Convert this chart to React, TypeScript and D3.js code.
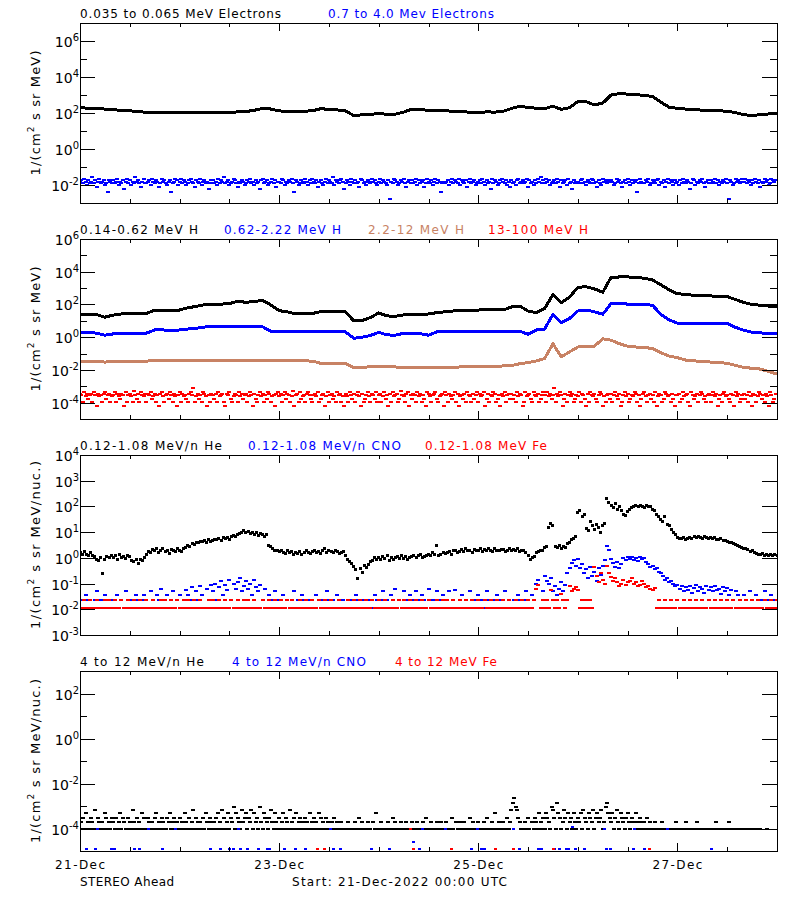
import React from "react";
import * as d3 from "d3";

// ---------------- time axis ----------------
const START_MS = Date.UTC(2022, 11, 21, 0, 0, 0);
const SPAN_HOURS = 168;
const HOUR_MS = 3600 * 1000;
const xTickLabels = ["21-Dec", "23-Dec", "25-Dec", "27-Dec"];
const xTickLabelHours = [0, 48, 96, 144];

// ---------------- titles ----------------
const titles = [
  ["0.035 to 0.065 MeV Electrons", "0.7 to 4.0 Mev Electrons"],
  ["0.14-0.62 MeV H", "0.62-2.22 MeV H", "2.2-12 MeV H", "13-100 MeV H"],
  ["0.12-1.08 MeV/n He", "0.12-1.08 MeV/n CNO", "0.12-1.08 MeV Fe"],
  ["4 to 12 MeV/n He", "4 to 12 MeV/n CNO", "4 to 12 MeV Fe"],
];
const yLabelMain = ["1/(cm", "1/(cm", "1/(cm", "1/(cm"];
const yLabelTail = [" s sr MeV)", " s sr MeV)", " s sr MeV/nuc.)", " s sr MeV/nuc.)"];
const bottomLeftText = "STEREO Ahead";
const bottomMidText = "Start: 21-Dec-2022 00:00 UTC";

// ---------------- data: log10 flux ----------------
// Panel 1: 0.035-0.065 MeV electrons, every 2 h
const elecLowLog = [
  2.29, 2.27, 2.25, 2.22, 2.18, 2.15, 2.12, 2.08, 2.04, 2.02, 2.02, 2.03,
  2.02, 2.03, 2.04, 2.03, 2.05, 2.05, 2.04, 2.06, 2.08, 2.15, 2.26, 2.22,
  2.12, 2.08, 2.08, 2.1, 2.12, 2.24, 2.2, 2.17, 2.12, 1.85, 1.9, 1.94,
  1.95, 1.94, 1.93, 2.05, 2.22, 2.2, 2.14, 2.12, 2.12, 2.1, 2.08, 2.04,
  2.03, 2.06, 2.05, 2.1, 2.25, 2.38, 2.3, 2.27, 2.24, 2.38, 2.2, 2.3,
  2.63, 2.63, 2.45, 2.55, 3.0, 3.08, 3.05, 3.02, 2.98, 2.92, 2.6, 2.32,
  2.26, 2.22, 2.18, 2.16, 2.13, 2.12, 2.1, 2.02, 1.9, 1.87, 1.9, 1.95, 1.97,
];
// Panel 1: 0.7-4.0 MeV electrons, every 20 min, index into levels
const elecHighLevels = [-1.55, -1.64, -1.72, -1.81, -1.9, -1.99, -2.1, -2.2, -2.4, -2.8];
const elecHighIdx = [
  3,2,4,1,3,5,2,4,3,0,4,2,6,3,1,4,3,2,5,4,8,2,3,4,
  2,4,3,1,5,3,4,2,7,3,1,4,2,5,3,4,0,3,2,4,6,3,1,4,
  4,3,2,5,1,3,4,2,3,6,4,1,3,2,4,5,3,2,8,4,3,1,2,5,
  3,1,4,2,3,5,4,2,1,3,4,6,2,3,4,1,5,3,2,4,3,7,4,2,
  2,4,3,5,1,4,2,3,0,4,3,2,5,4,3,1,2,4,6,3,4,2,3,5,
  4,2,3,1,4,3,5,2,4,3,7,2,1,4,3,2,5,4,3,1,4,2,6,3,
  3,4,1,2,5,3,4,2,3,1,4,8,2,3,5,4,2,3,4,1,3,5,2,4,
  1,3,4,2,6,3,2,4,5,3,1,4,2,3,4,0,5,2,3,4,2,1,3,7,
  4,2,3,5,1,3,4,2,4,3,6,1,2,4,3,5,2,3,4,1,3,2,4,5,
  3,1,4,2,3,4,5,2,9,3,4,1,2,3,5,4,2,3,1,4,6,3,2,4,
  2,4,3,1,5,2,4,3,2,6,4,1,3,4,2,5,3,1,4,2,3,8,4,3,
  4,3,2,5,3,1,4,2,3,4,1,5,2,3,4,2,6,3,1,4,3,2,5,4,
  3,2,4,1,3,5,2,4,3,7,1,4,2,3,5,4,2,1,3,4,2,5,3,6,
  2,4,3,5,2,1,4,3,2,4,3,1,6,2,4,3,5,2,4,1,3,0,4,2,
  4,1,3,2,5,4,3,2,4,1,3,6,2,4,3,2,5,1,4,3,7,2,4,3,
  3,4,2,1,4,3,5,2,3,4,1,2,4,3,6,2,4,5,1,3,2,4,3,2,
  2,3,5,4,1,3,2,4,6,3,2,4,1,3,5,2,4,3,2,8,4,1,3,4,
  4,2,3,1,5,4,2,3,4,2,1,5,3,4,2,6,3,1,4,2,3,5,2,4,
  3,5,2,4,1,3,4,2,3,7,4,1,2,5,3,4,2,3,1,4,6,3,2,4,
  2,4,3,1,4,2,5,3,4,2,3,1,4,9,2,3,5,4,1,3,2,4,3,1,
  3,1,4,2,3,5,2,4,1,3,4,2,6,3,4,1,3,2,5,4,1,2,3,2,
];

// Panel 2: protons, every 2 h
const protLowLog = [
  1.4, 1.4, 1.38, 1.22, 1.35, 1.42, 1.42, 1.42, 1.45, 1.66, 1.66, 1.62,
  1.66, 1.8, 1.88, 1.98, 2.0, 2.02, 2.05, 2.2, 2.13, 2.18, 2.25, 1.97,
  1.62, 1.55, 1.42, 1.42, 1.45, 1.56, 1.56, 1.58, 1.55, 0.99, 1.02, 1.2,
  1.48, 1.3, 1.28, 1.36, 1.36, 1.38, 1.42, 1.5, 1.55, 1.6, 1.62, 1.64,
  1.66, 1.68, 1.7, 1.66, 1.85, 1.9, 1.6, 1.5, 1.76, 2.6, 2.1, 2.45,
  3.05, 3.08, 2.95, 2.75, 3.65, 3.68, 3.68, 3.66, 3.6, 3.5, 3.2, 2.9,
  2.65, 2.62, 2.55, 2.52, 2.52, 2.5, 2.48, 2.3, 2.12, 2.0, 1.95, 1.9, 1.85,
];
const protMidLog = [
  0.27, 0.27, 0.25, 0.12, 0.2, 0.22, 0.22, 0.22, 0.25, 0.44, 0.44, 0.42,
  0.44, 0.5, 0.54, 0.62, 0.64, 0.64, 0.64, 0.66, 0.64, 0.68, 0.64, 0.36,
  0.34, 0.34, 0.34, 0.34, 0.34, 0.35, 0.34, 0.34, 0.32, -0.07, 0.0, 0.1,
  0.3, 0.14, 0.12, 0.24, 0.24, 0.22, 0.12, 0.32, 0.34, 0.34, 0.34, 0.34,
  0.34, 0.35, 0.35, 0.34, 0.34, 0.36, 0.18, 0.44, 0.5, 1.4, 0.9, 1.15,
  1.6, 1.66, 1.55, 1.4, 2.05, 2.07, 2.02, 2.0, 2.0, 1.95, 1.4, 1.05,
  0.86, 0.85, 0.85, 0.85, 0.84, 0.84, 0.84, 0.6, 0.42, 0.3, 0.26, 0.24, 0.22,
];
const protHighLog = [
  -1.5, -1.5, -1.5, -1.52, -1.5, -1.48, -1.48, -1.48, -1.46, -1.44, -1.44, -1.44,
  -1.42, -1.44, -1.44, -1.43, -1.43, -1.43, -1.44, -1.43, -1.43, -1.43, -1.42, -1.44,
  -1.44, -1.45, -1.44, -1.45, -1.46, -1.6, -1.6, -1.62, -1.62, -1.85, -1.85, -1.8,
  -1.78, -1.8, -1.82, -1.85, -1.85, -1.86, -1.86, -1.84, -1.84, -1.83, -1.82, -1.8,
  -1.8, -1.8, -1.78, -1.76, -1.74, -1.62, -1.55, -1.45, -1.3, -0.4, -1.2, -0.9,
  -0.6, -0.55, -0.55, -0.1, -0.18, -0.4, -0.55, -0.6, -0.62, -0.7, -0.95, -1.15,
  -1.25, -1.4, -1.45, -1.48, -1.52, -1.55, -1.6, -1.72, -1.85, -1.9, -1.95, -2.1, -2.25,
];
// 13-100 MeV H, every 20 min, index into levels
const protTopLevels = [-3.12, -3.3, -3.38, -3.46, -3.54, -3.62, -3.78, -3.94, -4.2];
const protTopIdx = [
  3,4,7,2,5,3,6,4,3,7,2,4,8,3,5,4,7,3,2,6,4,3,7,5,
  4,2,7,3,5,6,3,4,8,2,7,4,3,5,7,1,4,6,3,7,2,4,5,3,
  7,3,4,2,6,5,3,7,4,8,3,2,5,7,4,3,6,2,4,7,3,5,8,4,
  2,7,3,5,4,6,7,3,2,4,0,7,5,3,6,4,7,2,3,5,8,4,7,3,
  4,6,3,7,2,5,4,3,7,8,3,4,2,6,7,5,3,4,7,2,5,3,6,4,
  3,7,5,2,4,8,3,6,7,4,2,5,3,7,4,6,2,3,7,5,4,8,3,2,
  5,3,7,4,2,6,3,4,7,5,1,8,4,3,7,2,6,5,4,7,3,2,4,6,
  7,4,3,5,2,7,6,4,3,8,5,2,7,4,3,6,5,7,2,4,3,7,5,8,
  3,5,7,2,4,6,3,7,4,2,5,8,3,7,6,4,2,5,7,3,4,6,2,7,
  4,3,7,5,2,6,4,8,3,7,2,5,4,3,7,6,1,4,5,7,3,2,8,4,
  6,3,4,7,2,5,3,7,4,6,8,2,3,5,7,4,3,2,6,7,5,4,3,8,
  2,4,7,3,5,6,4,2,7,3,8,5,4,6,3,7,2,4,5,7,3,6,4,2,
  7,3,5,4,2,8,6,3,7,4,5,2,3,7,6,4,8,3,5,2,7,4,3,6,
  3,6,4,7,2,5,3,4,8,7,2,5,4,3,6,7,2,4,5,3,7,6,4,2,
  4,7,2,5,3,6,4,0,7,3,5,2,4,8,6,3,7,4,2,5,3,7,6,4,
  5,2,7,3,4,6,8,3,7,2,4,5,3,6,7,4,2,3,8,5,7,4,3,6,
  3,7,4,2,5,6,3,8,7,4,2,5,3,7,6,4,5,2,3,7,4,8,6,3,
  2,5,7,4,3,6,4,7,2,8,5,3,4,7,6,2,3,5,4,7,3,6,8,4,
  4,3,7,6,2,5,4,3,7,8,2,4,6,5,3,7,4,2,3,6,5,7,4,3,
  7,4,2,5,3,8,6,4,7,3,2,5,4,6,7,3,4,8,2,5,3,7,6,4,
  3,6,4,7,2,5,8,3,4,7,5,2,3,6,4,7,3,5,8,2,4,7,6,3,
];

// Panel 3: 0.12-1.08 MeV/n, every 30 min, log10 x 100
const heLowLog100 = [
  20, 12, 25, 15, 8, 22, 10, 5, -5, -12, 2, -60, -8, 5, 0, 10,
  2, 8, -5, 12, 0, 6, -3, 10, 4, -10, -15, -5, -20, -8, -12, 2,
  15, 25, 20, 32, 28, 35, 22, 30, 38, 25, 30, 18, 33, 28, 24, 36,
  30, 25, 35, 42, 50, 46, 55, 52, 60, 58, 65, 62, 68, 60, 70, 65,
  66, 72, 70, 75, 68, 78, 74, 80, 72, 85, 88, 82, 92, 95, 100, 105,
  98, 102, 96, 100, 92, 98, 88, 95, 90, 85, 92, 50, 45, 38, 30, 28,
  25, 30, 22, 18, 28, 20, 26, 12, 22, 18, 25, 15, 20, 28, 22, 18,
  24, 30, 20, 26, 18, 28, 35, 22, 30, 25, 20, 28, 24, 18, 22, 26,
  10, -5, -15, -20, -35, -45, -80, -40, -55, -30, -38, -25, -15, -10, 2, -5,
  0, -8, 5, -3, 8, -10, 2, -5, 0, 6, -4, 10, -2, 4, -6, 3,
  5, 10, 2, 8, 12, 0, 6, 10, 15, 8, 20, 12, 50, 10, 15, 20,
  18, 22, 25, 15, 28, 30, 20, 26, 32, 25, 35, 28, 30, 22, 34, 28,
  30, 35, 25, 32, 28, 38, 30, 26, 35, 30, 28, 34, 32, 25, 30, 36,
  28, 32, 30, 35, 25, 30, 28, 22, 10, -5, 0, 5, 20, 25, 30, 28,
  40, 45, 120, 135, 125, 45, 40, 50, 38, 45, 42, 55, 60, 70, 75, 82,
  175, 185, 160, 170, 115, 105, 140, 125, 110, 130, 120, 100, 125, 135, 230, 215,
  205, 195, 210, 190, 200, 185, 170, 165, 180, 190, 195, 200, 205, 198, 202, 200,
  195, 205, 198, 200, 190, 185, 170, 160, 150, 140, 160, 130, 125, 110, 100, 90,
  80, 76, 74, 78, 72, 75, 80, 77, 82, 78, 84, 80, 76, 82, 79, 75,
  78, 74, 80, 72, 70, 75, 68, 66, 62, 58, 60, 55, 52, 48, 45, 40,
  38, 35, 32, 25, 28, 20, 18, 15, 12, 18, 10, 15, 8, 14, 10, 12, 10,
];
const cnoLowLog100 = [
  -195, -162, -195, -145, -162, -195, -195, -162, -130, -195, -162, -195, -145, -162, -195, -162,
  -195, -162, -145, -195, -162, -195, -130, -162, -195, -162, -195, -145, -162, -195, -162, -145,
  -162, -195, -130, -162, -195, -145, -162, -120, -195, -162, -145, -195, -162, -130, -195, -162,
  -145, -195, -162, -125, -145, -162, -115, -195, -130, -162, -110, -145, -195, -120, -162, -105,
  -130, -100, -162, -115, -90, -145, -105, -125, -85, -162, -100, -120, -95, -80, -130, -110,
  -90, -120, -100, -145, -85, -115, -130, -105, -162, -120, -195, -145, -162, -195, -130, -162,
  -195, -162, -145, -195, -162, -195, -162, -130, -195, -162, -195, -145, -162, -195, -162, -195,
  -162, -195, -145, -162, -195, -162, -195, -130, -162, -195, -162, -195, -145, -162, -195, -162,
  -195, -162, -195, -162, -195, -145, -162, -195, -162, -195, -162, -195, -162, -195, -145, -162,
  -195, -162, -130, -195, -162, -195, -145, -162, -120, -195, -162, -195, -130, -162, -195, -145,
  -162, -195, -130, -162, -195, -145, -162, -195, -120, -162, -195, -162, -130, -195, -162, -145,
  -195, -162, -130, -195, -162, -125, -195, -162, -145, -195, -162, -195, -130, -162, -195, -162,
  -145, -195, -162, -195, -130, -162, -195, -162, -195, -145, -162, -195, -162, -130, -195, -162,
  -195, -162, -195, -145, -162, -195, -162, -130, -162, -195, -145, -162, -100, -85, -195, -130,
  -70, -90, -100, -80, -130, -110, -145, -120, -95, -130, -105, -60, -40, -20, -10, -30,
  -5, -40, -25, -60, -45, -80, -35, -70, -55, -90, -40, -65, -30, -10, 45, 30,
  -5, -20, -35, -15, -40, -25, 0, -10, 5, -5, 2, -8, 0, -12, 5, -5,
  -2, -15, -25, -35, -30, -45, -40, -55, -60, -70, -85, -80, -95, -90, -100, -110,
  -105, -120, -110, -130, -115, -125, -108, -135, -118, -105, -128, -112, -120, -135, -110, -125,
  -115, -130, -108, -125, -120, -140, -112, -130, -118, -145, -125, -162, -130, -145, -162, -195,
  -145, -162, -195, -130, -162, -195, -145, -162, -195, -162, -130, -195, -162, -145, -195, -162, -162,
];
const feLowLog100 = [
  -195, -195, -162, -195, -195, -162, -195, -195, -162, -195, -195, -195, -162, -195, -162, -195,
  -195, -162, -195, -195, -162, -195, -195, -162, -195, -195, -162, -195, -195, -162, -195, -195,
  -162, -195, -195, -162, -195, -195, -195, -162, -195, -162, -195, -195, -162, -195, -195, -162,
  -195, -195, -162, -195, -162, -195, -195, -162, -195, -195, -162, -195, -195, -195, -162, -195,
  -162, -195, -195, -162, -195, -195, -162, -195, -195, -162, -195, -195, -162, -195, -195, -162,
  -195, -162, -195, -195, -162, -195, -195, -195, -162, -195, -195, -162, -195, -195, -162, -195,
  -195, -162, -195, -195, -162, -195, -162, -195, -195, -195, -162, -195, -195, -162, -195, -195,
  -162, -195, -195, -162, -195, -195, -162, -195, -195, -162, -195, -195, -195, -162, -195, -195,
  -195, -162, -195, -195, -162, -195, -195, -162, -195, -195, -162, -195, -195, -162, -195, -195,
  -162, -195, -195, -162, -195, -195, -195, -162, -195, -195, -162, -195, -162, -195, -195, -162,
  -195, -195, -162, -195, -195, -162, -195, -195, -162, -195, -195, -195, -162, -195, -195, -162,
  -195, -162, -195, -195, -162, -195, -195, -162, -195, -195, -162, -195, -195, -162, -195, -195,
  -162, -195, -195, -162, -195, -195, -162, -195, -195, -162, -195, -195, -162, -195, -195, -162,
  -195, -195, -162, -195, -195, -162, -195, -195, -162, -195, -195, -162, -120, -105, -195, -162,
  -195, -162, -195, -125, -162, -195, -162, -195, -140, -162, -195, -162, -110, -130, -120, -115,
  -125, -195, -162, -195, -162, -195, -162, -195, -35, -70, -95, -60, -85, -100, -30, -60,
  -75, -90, -80, -95, -110, -100, -85, -105, -95, -90, -80, -100, -95, -110, -105, -90,
  -100, -115, -110, -120, -125, -118, -195, -162, -195, -195, -162, -195, -195, -162, -195, -195,
  -162, -195, -195, -162, -195, -195, -162, -195, -195, -162, -195, -195, -162, -195, -195, -162,
  -195, -195, -162, -195, -195, -162, -195, -195, -162, -195, -195, -162, -195, -195, -162, -195,
  -195, -162, -195, -195, -162, -195, -195, -162, -195, -195, -162, -195, -195, -162, -195, -195, -162,
];

// Panel 4: 4-12 MeV/n He, every 20 min, index into levels (0 = no count)
const heHighLevels = [null, -4.0, -3.7, -3.52, -3.32, -3.18, -3.03, -2.85, -2.66];
const heHighIdx = [
  1,2,3,1,4,1,2,1,3,2,1,5,1,3,2,1,2,1,4,3,1,2,1,3,
  2,1,3,1,2,4,1,3,2,1,1,3,2,1,5,2,1,3,1,2,1,4,3,1,
  1,3,2,1,2,1,3,4,1,2,1,3,2,1,1,3,2,4,1,2,3,1,2,1,
  3,1,2,1,4,2,1,3,1,2,5,1,3,2,1,2,1,3,1,4,2,1,3,2,
  1,2,3,1,4,2,1,5,3,1,2,4,1,3,2,6,1,4,3,2,1,5,2,3,
  4,1,3,2,5,1,4,2,3,1,6,2,1,4,3,2,1,3,5,2,1,4,2,1,
  3,1,2,4,1,3,2,1,5,2,1,3,4,1,2,3,1,2,1,3,2,1,4,1,
  2,3,1,2,1,4,3,1,2,1,3,2,1,0,2,1,3,1,2,1,0,2,1,1,
  1,0,2,1,1,0,1,2,1,0,3,1,2,1,0,1,2,1,1,0,2,1,4,1,
  0,1,2,1,0,1,1,2,0,1,3,1,2,0,1,1,2,1,0,1,2,1,1,0,
  2,1,0,1,2,1,1,0,2,1,3,1,0,1,2,1,1,0,2,1,1,2,0,1,
  1,2,0,1,1,3,1,0,2,1,1,2,0,1,2,1,0,1,3,1,2,1,0,1,
  2,1,1,0,2,1,3,1,0,1,2,1,4,1,0,2,1,1,2,0,1,3,1,2,
  5,7,8,6,5,3,2,1,0,1,2,1,3,1,0,2,1,3,2,1,4,2,1,3,
  1,4,3,2,1,6,5,3,1,7,4,3,1,2,5,3,1,4,2,3,1,4,2,1,
  3,2,4,1,5,3,2,1,4,3,2,5,1,3,4,2,3,5,1,2,6,7,4,3,
  2,4,1,3,5,2,1,4,3,2,1,3,4,2,1,3,2,1,4,2,1,3,2,1,
  2,1,3,1,2,1,0,1,2,1,1,0,1,2,1,0,1,1,0,1,1,0,1,2,
  1,0,1,1,0,1,2,1,0,1,1,1,0,1,2,1,0,1,1,0,1,1,0,1,
  1,0,1,1,2,0,1,1,0,1,0,1,1,2,1,0,1,1,0,1,0,1,1,0,
  1,1,0,1,0,1,1,0,1,1,0,0,1,0,0,0,0,1,0,0,0,0,0,0,
];
// 4-12 MeV/n CNO and Fe: sparse counts (hour, log10 flux)
const cnoHighHours = [
  1.6, 3.8, 7.6, 8.4, 13.2, 14.4, 20, 31.5, 33.8, 36, 37, 38.7, 40.3, 43, 45.2, 45.6,
  49.2, 52, 54.3, 61, 62.9, 70.2, 74.5, 80.5, 81.9, 94.3, 96.7, 97.6, 105.9, 110.4,
  111.3, 114.3, 115.6, 117.2, 117.8, 119.5, 121.5, 127, 127.8, 133.5, 136.1, 152.3,
  80.5, 4.1, 16.4, 22.9, 38.1, 60.3, 82.6, 88, 95.9, 104.6, 118.8, 126.4, 133.7, 141.7,
];
const cnoHighLog = [
  -4.9, -4.9, -4.9, -4.9, -4.9, -4.9, -4.9, -4.9, -4.9, -4.9, -4.9, -4.9, -4.9, -4.9, -4.9, -4.9,
  -4.9, -4.9, -4.9, -4.9, -4.9, -4.9, -4.9, -4.9, -4.9, -4.9, -4.9, -4.9, -4.9, -4.9,
  -4.9, -4.9, -4.9, -4.9, -4.9, -4.9, -4.9, -4.9, -4.9, -4.9, -4.9, -4.9,
  -4.6, -4.0, -4.0, -4.0, -4.0, -4.0, -4.0, -4.0, -4.0, -4.0, -3.93, -4.0, -4.0, -4.0,
];
const feHighHours = [57.3, 58.9, 80.3, 89.5, 100.1, 104.5, 114.2, 137.2, 79.7];
const feHighLog = [-4.9, -4.9, -4.9, -4.9, -4.9, -4.9, -4.9, -4.9, -4.0];

// ---------------- layout / style ----------------
const PLOT_L = 80;
const PLOT_R = 777;
const PANEL_H = 180;
const panelTops = [23, 239, 455, 671];
const panelLogDomains = [[-3, 7], [-5, 6], [-3, 4], [-5, 3]];
const labeledExps = [[-2, 0, 2, 4, 6], [-4, -2, 0, 2, 4, 6], [-3, -2, -1, 0, 1, 2, 3, 4], [-4, -2, 0, 2]];
const minorExps = [[-1, 1, 3, 5], [-3, -1, 1, 3, 5], [], [-3, -1, 1]];
const titleX = [[80, 328], [80, 224, 368, 488], [80, 248, 425], [80, 232, 395]];
const titleW = [[201, 166], [118, 117, 96, 100], [142, 153, 122], [124, 134, 102]];
const yLabelW = [125, 125, 168, 164];
const BLACK = "#000000";
const BLUE = "#0000ff";
const RED = "#ff0000";
const BROWN = "#c88264";
const titleColors = [[BLACK, BLUE], [BLACK, BLUE, BROWN, RED], [BLACK, BLUE, RED], [BLACK, BLUE, RED]];
const FONT = "DejaVu Sans, Liberation Sans, sans-serif";

export default function App() {
  const x = d3
    .scaleUtc()
    .domain([new Date(START_MS), new Date(START_MS + SPAN_HOURS * HOUR_MS)])
    .range([PLOT_L, PLOT_R]);
  const xh = (h: number) => x(new Date(START_MS + h * HOUR_MS));
  const ys = panelTops.map((top, i) =>
    d3
      .scaleLog()
      .domain([Math.pow(10, panelLogDomains[i][0]), Math.pow(10, panelLogDomains[i][1])])
      .range([top + PANEL_H, top])
  );

  const lineOf = (vals: number[], stepH: number, y: any) =>
    d3
      .line<number>()
      .x((_, i) => xh(i * stepH))
      .y((v) => y(Math.pow(10, v)))(vals) || "";

  const dots = (
    key: string,
    pts: { h: number; v: number }[],
    y: any,
    color: string,
    w = 2,
    hgt = 2
  ) =>
    pts.map((p, i) => (
      <rect
        key={key + i}
        x={Math.round(xh(p.h) - w / 2)}
        y={Math.round(y(Math.pow(10, p.v)) - hgt / 2)}
        width={w}
        height={hgt}
        fill={color}
      />
    ));

  const fromStep = (vals: number[], stepH: number, scale = 1) =>
    vals.map((v, i) => ({ h: i * stepH, v: v / scale }));
  const fromIdx = (idx: number[], levels: (number | null)[], stepH: number) =>
    idx
      .map((k, i) => ({ h: i * stepH, v: levels[k] as number | null }))
      .filter((p) => p.v !== null) as { h: number; v: number }[];
  const fromPairs = (hs: number[], vs: number[]) => hs.map((h, i) => ({ h, v: vs[i] }));

  const xTickHours: number[] = [];
  for (let h = 12; h < SPAN_HOURS; h += 12) xTickHours.push(h);

  const axes = panelTops.map((top, pi) => {
    const y = ys[pi];
    const bottom = top + PANEL_H;
    const els: any[] = [];
    els.push(
      <rect key="frame" x={PLOT_L + 0.5} y={top + 0.5} width={PLOT_R - PLOT_L} height={PANEL_H} fill="none" stroke="#000" strokeWidth={1} />
    );
    labeledExps[pi].forEach((e) => {
      const yy = Math.round(y(Math.pow(10, e))) + 0.5;
      if (e > panelLogDomains[pi][0] && e < panelLogDomains[pi][1]) {
        els.push(<line key={"ml" + e} x1={PLOT_L} x2={PLOT_L + 15} y1={yy} y2={yy} stroke="#000" />);
        els.push(<line key={"mr" + e} x1={PLOT_R - 15} x2={PLOT_R} y1={yy} y2={yy} stroke="#000" />);
      }
      els.push(
        <text key={"lab" + e} x={79} y={yy + 5} textAnchor="end" fontSize={14} fontFamily={FONT} fill="#000">
          10
          <tspan dy={-6} fontSize={10}>
            {String(e)}
          </tspan>
        </text>
      );
    });
    minorExps[pi].forEach((e) => {
      const yy = Math.round(y(Math.pow(10, e))) + 0.5;
      els.push(<line key={"nl" + e} x1={PLOT_L} x2={PLOT_L + 7} y1={yy} y2={yy} stroke="#000" />);
      els.push(<line key={"nr" + e} x1={PLOT_R - 7} x2={PLOT_R} y1={yy} y2={yy} stroke="#000" />);
    });
    xTickHours.forEach((h) => {
      const xx = Math.round(xh(h)) + 0.5;
      const len = h % 48 === 0 ? 8 : 4;
      els.push(<line key={"xt" + h} x1={xx} x2={xx} y1={top} y2={top + len} stroke="#000" />);
      els.push(<line key={"xb" + h} x1={xx} x2={xx} y1={bottom - len} y2={bottom} stroke="#000" />);
    });
    titles[pi].forEach((t, ti) => {
      els.push(
        <text
          key={"title" + ti}
          x={titleX[pi][ti]}
          y={top - 5.5}
          fontSize={12}
          fontFamily={FONT}
          fill={titleColors[pi][ti]}
          textLength={titleW[pi][ti]}
          lengthAdjust="spacing"
        >
          {t}
        </text>
      );
    });
    const cy = top + PANEL_H / 2;
    els.push(
      <text
        key="ylab"
        transform={`translate(40, ${cy}) rotate(-90)`}
        textAnchor="middle"
        fontSize={13}
        fontFamily={FONT}
        fill="#000"
        textLength={yLabelW[pi]}
        lengthAdjust="spacing"
      >
        {yLabelMain[pi]}
        <tspan dy={-6} fontSize={9}>
          2
        </tspan>
        <tspan dy={6}>{yLabelTail[pi]}</tspan>
      </text>
    );
    return <g key={"axes" + pi}>{els}</g>;
  });

  const lastBottom = panelTops[3] + PANEL_H;

  return (
    <svg
      width={800}
      height={900}
      viewBox="0 0 800 900"
      style={{ position: "absolute", left: 0, top: 0, background: "#fff" }}
    >
      <rect x={0} y={0} width={800} height={900} fill="#fff" />
      <defs>
        {panelTops.map((top, i) => (
          <clipPath key={"c" + i} id={"clip" + i}>
            <rect x={PLOT_L} y={top} width={PLOT_R - PLOT_L} height={PANEL_H} />
          </clipPath>
        ))}
      </defs>

      {/* Panel 1 */}
      <g clipPath="url(#clip0)" shapeRendering="crispEdges">
        <path d={lineOf(elecLowLog, 2, ys[0])} fill="none" stroke={BLACK} strokeWidth={3} strokeLinejoin="round" />
        {dots("e2", fromIdx(elecHighIdx, elecHighLevels, 1 / 3), ys[0], BLUE, 4, 2)}
      </g>

      {/* Panel 2 */}
      <g clipPath="url(#clip1)" shapeRendering="crispEdges">
        <path d={lineOf(protLowLog, 2, ys[1])} fill="none" stroke={BLACK} strokeWidth={3} strokeLinejoin="round" />
        <path d={lineOf(protMidLog, 2, ys[1])} fill="none" stroke={BLUE} strokeWidth={3} strokeLinejoin="round" />
        <path d={lineOf(protHighLog, 2, ys[1])} fill="none" stroke={BROWN} strokeWidth={3} strokeLinejoin="round" />
        {dots("p4", fromIdx(protTopIdx, protTopLevels, 1 / 3), ys[1], RED, 4, 2)}
      </g>

      {/* Panel 3 */}
      <g clipPath="url(#clip2)" shapeRendering="crispEdges">
        {dots("he", fromStep(heLowLog100, 0.5, 100), ys[2], BLACK, 3, 3)}
        {dots("cno", fromStep(cnoLowLog100, 0.5, 100), ys[2], BLUE, 4, 2)}
        {dots("fe", fromStep(feLowLog100, 0.5, 100), ys[2], RED, 4, 2)}
      </g>

      {/* Panel 4 */}
      <g clipPath="url(#clip3)" shapeRendering="crispEdges">
        {dots("he4", fromIdx(heHighIdx, heHighLevels, 1 / 3), ys[3], BLACK, 4, 2)}
        {dots("cno4", fromPairs(cnoHighHours, cnoHighLog), ys[3], BLUE, 3, 2)}
        {dots("fe4", fromPairs(feHighHours, feHighLog), ys[3], RED, 3, 2)}
      </g>

      {axes}

      {xTickLabels.map((lab, i) => (
        <text
          key={"xl" + i}
          x={xh(xTickLabelHours[i])}
          y={lastBottom + 18}
          textAnchor="middle"
          fontSize={12}
          fontFamily={FONT}
          fill="#000"
          textLength={50}
          lengthAdjust="spacing"
        >
          {lab}
        </text>
      ))}
      <text x={80} y={lastBottom + 34.5} fontSize={12} fontFamily={FONT} fill="#000" textLength={94} lengthAdjust="spacing">
        {bottomLeftText}
      </text>
      <text x={292} y={lastBottom + 34.5} fontSize={12} fontFamily={FONT} fill="#000" textLength={215} lengthAdjust="spacing">
        {bottomMidText}
      </text>
    </svg>
  );
}
